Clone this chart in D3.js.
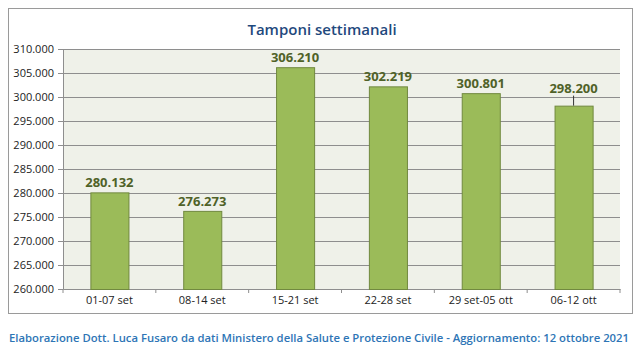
<!DOCTYPE html>
<html>
<head>
<meta charset="utf-8">
<script src="https://cdn.jsdelivr.net/npm/d3@7"></script>
<style>
  body { margin: 0; background: #fff; }
  svg { display: block; }
</style>
</head>
<body>
<svg id="chart" width="644" height="352"></svg>
<script>
const weeks = ["01-07 set", "08-14 set", "15-21 set", "22-28 set", "29 set-05 ott", "06-12 ott"];
const tamponi = [280132, 276273, 306210, 302219, 300801, 298200];
const yTicks = [260000, 265000, 270000, 275000, 280000, 285000, 290000, 295000, 300000, 305000, 310000];
const title = "Tamponi settimanali";
const footer = "Elaborazione Dott. Luca Fusaro da dati Ministero della Salute e Protezione Civile - Aggiornamento: 12 ottobre 2021";

// italian number format: 280.132
const fmt = d3.formatLocale({ decimal: ",", thousands: ".", grouping: [3] }).format(",.0f");

const svg = d3.select("#chart");
const font = "'Open Sans', 'DejaVu Sans', sans-serif";

// outer frame
svg.append("rect")
  .attr("x", 8.5).attr("y", 8.5)
  .attr("width", 624).attr("height", 305)
  .attr("fill", "#fff")
  .attr("stroke", "#9a9a9a");

const margin = { top: 49, left: 63, right: 24, bottom: 63 };
const width = 644 - margin.left - margin.right;
const height = 352 - margin.top - margin.bottom;

const g = svg.append("g").attr("transform", `translate(${margin.left},${margin.top})`);

const x = d3.scaleBand().domain(weeks).range([0, width]).paddingInner(0.59).paddingOuter(0.295);
const y = d3.scaleLinear().domain([260000, 310000]).range([height, 0]);

g.append("rect")
  .attr("width", width).attr("height", height)
  .attr("fill", "#eff1e9");

// gridlines
g.append("g")
  .selectAll("line")
  .data(yTicks.slice(1))
  .join("line")
  .attr("x1", 0).attr("x2", width)
  .attr("y1", d => Math.round(y(d)) + 0.5).attr("y2", d => Math.round(y(d)) + 0.5)
  .attr("stroke", "#8e8e8e");

// y axis
const yAxis = g.append("g")
  .call(d3.axisLeft(y).tickValues(yTicks).tickSize(5).tickFormat(fmt));
yAxis.select(".domain").attr("stroke", "#8e8e8e");
yAxis.selectAll(".tick line").attr("stroke", "#8e8e8e");
yAxis.selectAll("text")
  .attr("font-family", font).attr("font-size", 11).attr("fill", "#222").attr("dx", -1);

// x axis
const xAxis = g.append("g")
  .attr("transform", `translate(0,${height})`)
  .call(d3.axisBottom(x).tickSize(0));
xAxis.select(".domain").attr("stroke", "#8e8e8e");
xAxis.selectAll("text")
  .attr("font-family", font).attr("font-size", 11).attr("fill", "#222").attr("dy", 12);
xAxis.selectAll(".sep")
  .data(d3.range(weeks.length + 1))
  .join("line")
  .attr("class", "sep")
  .attr("x1", i => i * width / weeks.length).attr("x2", i => i * width / weeks.length)
  .attr("y1", 0).attr("y2", 4)
  .attr("stroke", "#8e8e8e");

// bars
g.selectAll(".bar")
  .data(tamponi)
  .join("rect")
  .attr("class", "bar")
  .attr("x", (d, i) => x(weeks[i]) + 0.5)
  .attr("y", d => y(d) + 0.5)
  .attr("width", x.bandwidth())
  .attr("height", d => height - y(d))
  .attr("fill", "#9bbb59")
  .attr("stroke", "#71893f");

// labels (the last one is lifted with a leader line)
const lift = [0, 0, 0, 0, 0, 8];
g.selectAll(".lead")
  .data(tamponi.filter((d, i) => lift[i] > 0))
  .join("line")
  .attr("class", "lead")
  .attr("x1", d => x(weeks[tamponi.indexOf(d)]) + x.bandwidth() / 2)
  .attr("x2", d => x(weeks[tamponi.indexOf(d)]) + x.bandwidth() / 2)
  .attr("y1", d => y(d) - 10).attr("y2", d => y(d))
  .attr("stroke", "#333");

g.selectAll(".lbl")
  .data(tamponi)
  .join("text")
  .attr("class", "lbl")
  .attr("x", (d, i) => x(weeks[i]) + x.bandwidth() / 2)
  .attr("y", (d, i) => y(d) - 5 - lift[i])
  .attr("text-anchor", "middle")
  .attr("font-family", font).attr("font-size", 13).attr("font-weight", "bold")
  .attr("fill", "#4f6228")
  .text(d => fmt(d));

// title
svg.append("text")
  .attr("x", 322).attr("y", 35)
  .attr("text-anchor", "middle")
  .attr("font-family", font).attr("font-size", 15).attr("font-weight", "600")
  .attr("fill", "#1f497d")
  .text(title);

// footer
svg.append("text")
  .attr("x", 9).attr("y", 342)
  .attr("font-family", font).attr("font-size", 11.2).attr("font-weight", "600")
  .attr("fill", "#2e75b6")
  .attr("textLength", 620).attr("lengthAdjust", "spacingAndGlyphs")
  .text(footer);
</script>
</body>
</html>
